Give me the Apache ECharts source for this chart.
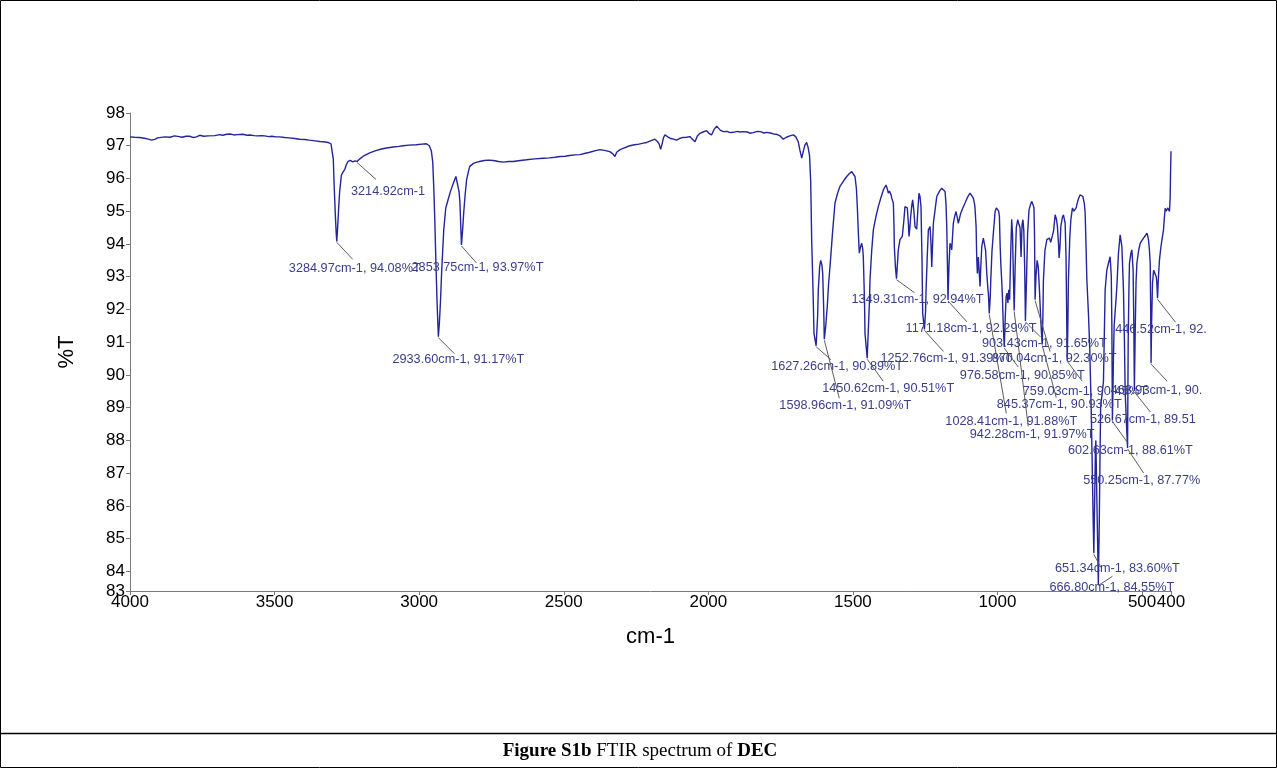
<!DOCTYPE html>
<html>
<head>
<meta charset="utf-8">
<script src="https://cdn.jsdelivr.net/npm/echarts@6/dist/echarts.min.js"></script>
<style>
  html, body { margin: 0; padding: 0; background: #ffffff; }
  #chart { width: 1277px; height: 768px; }
</style>
</head>
<body>
<div id="chart"></div>
<script>
// FTIR spectrum of DEC: transmittance (%T) against wavenumber (cm-1), 4000 -> 400 cm-1
const spectrum = [
  [4000,97.27],[3985,97.26],[3967,97.25],[3950,97.23],[3940,97.21],[3925,97.17],[3912,97.2],[3905,97.24],
  [3880,97.27],[3862,97.26],[3846,97.3],[3830,97.28],[3820,97.26],[3806,97.29],[3794,97.29],[3780,97.25],
  [3770,97.27],[3759,97.32],[3745,97.29],[3730,97.3],[3707,97.31],[3690,97.34],[3680,97.32],[3665,97.35],
  [3655,97.36],[3640,97.33],[3630,97.34],[3610,97.35],[3595,97.32],[3586,97.33],[3570,97.31],[3560,97.3],
  [3545,97.31],[3534,97.3],[3520,97.28],[3510,97.29],[3495,97.27],[3482,97.27],[3465,97.25],[3450,97.24],
  [3430,97.22],[3413,97.2],[3395,97.19],[3380,97.17],[3360,97.15],[3344,97.13],[3330,97.12],[3315,97.1],
  [3305,97.06],[3300,97.0],[3297,96.6],[3294,95.8],[3290,94.9],[3287,94.35],[3284.97,94.08],[3282,94.5],
  [3279,95.0],[3275,95.6],[3269,96.1],[3263,96.2],[3257,96.28],[3252,96.42],[3246,96.52],[3238,96.55],
  [3230,96.51],[3222,96.54],[3214.92,96.52],[3205,96.6],[3190,96.7],[3171,96.78],[3150,96.85],[3130,96.9],
  [3113,96.93],[3090,96.96],[3070,96.98],[3056,97.0],[3035,97.02],[3010,97.03],[2990,97.05],[2975,97.06],
  [2965,97.0],[2958,96.85],[2953,96.5],[2949,95.6],[2946,94.74],[2942,93.4],[2938,92.19],[2933.6,91.17],
  [2930,91.6],[2926,92.3],[2922,93.2],[2918,93.9],[2915,94.43],[2908,95.1],[2900,95.35],[2892,95.6],
  [2882,95.85],[2873,96.06],[2867,96.0],[2862,95.6],[2859,95.26],[2856,94.5],[2853.75,93.97],[2850,94.4],
  [2846,94.95],[2841,95.5],[2836,95.96],[2830,96.2],[2825,96.37],[2812,96.46],[2800,96.5],[2791,96.52],
  [2775,96.55],[2760,96.56],[2744,96.55],[2725,96.52],[2710,96.5],[2690,96.52],[2675,96.52],[2650,96.55],
  [2629,96.57],[2600,96.6],[2571,96.62],[2550,96.63],[2530,96.65],[2513,96.67],[2495,96.68],[2480,96.7],
  [2460,96.72],[2444,96.73],[2425,96.77],[2410,96.8],[2390,96.85],[2375,96.88],[2355,96.85],[2341,96.82],
  [2330,96.75],[2323,96.67],[2317,96.8],[2305,96.88],[2295,96.92],[2280,96.97],[2272,97.0],[2255,97.03],
  [2240,97.05],[2225,97.08],[2213,97.1],[2200,97.15],[2185,97.2],[2175,97.12],[2170,97.05],[2165,96.89],
  [2160,97.05],[2155,97.25],[2150,97.33],[2140,97.27],[2130,97.22],[2120,97.2],[2110,97.17],[2100,97.22],
  [2090,97.25],[2075,97.26],[2064,97.28],[2055,97.2],[2046,97.12],[2038,97.3],[2029,97.38],[2018,97.42],
  [2006,97.46],[1998,97.38],[1989,97.33],[1980,97.5],[1971,97.6],[1965,97.55],[1958,97.47],[1948,97.43],
  [1935,97.44],[1925,97.4],[1914,97.41],[1900,97.44],[1890,97.42],[1879,97.43],[1865,97.42],[1855,97.38],
  [1845,97.4],[1830,97.44],[1820,97.43],[1808,97.39],[1798,97.41],[1785,97.39],[1775,97.36],[1764,97.35],
  [1752,97.3],[1741,97.2],[1730,97.26],[1718,97.3],[1706,97.33],[1698,97.28],[1689,97.12],[1683,96.85],
  [1677,96.62],[1671,96.85],[1666,97.02],[1660,97.1],[1655,96.95],[1650,96.7],[1646,95.9],[1642.6,94.13],
  [1638,92.6],[1634.6,91.27],[1627.26,90.89],[1622,91.8],[1619.7,92.6],[1615,93.3],[1611.4,93.5],[1607,93.35],
  [1604.5,93.1],[1601,92.0],[1598.96,91.09],[1594,91.5],[1588.6,92.1],[1584,92.8],[1579.3,93.3],[1570,94.4],
  [1562,95.25],[1553,95.55],[1544.7,95.76],[1532,95.93],[1521.5,96.06],[1512,96.15],[1504.2,96.21],[1498,96.16],
  [1492.8,96.06],[1488,95.7],[1484.8,95.14],[1481,94.3],[1477.9,93.72],[1474,93.9],[1469.6,94.02],[1466,93.85],
  [1464.1,93.61],[1460,92.3],[1458.2,91.27],[1450.62,90.51],[1446.7,91.37],[1443,92.2],[1440.9,92.9],[1435,93.8],
  [1429.4,94.43],[1420,94.85],[1412.1,95.14],[1403,95.42],[1394.8,95.65],[1385.5,95.8],[1381,95.68],[1377.5,95.55],
  [1374,95.62],[1371.6,95.65],[1368,95.5],[1365.8,95.4],[1360.2,95.25],[1358,94.6],[1356.8,93.92],[1353,93.3],
  [1349.31,92.94],[1346,93.4],[1343.1,93.82],[1337.2,94.13],[1329.2,94.23],[1324,94.7],[1319.9,95.14],[1315,95.18],
  [1311.9,95.1],[1308,94.6],[1306,94.23],[1303,94.5],[1300.2,94.84],[1296,95.2],[1293.3,95.35],[1289,95.0],
  [1285.3,94.53],[1279.4,94.45],[1275,95.1],[1271.5,95.55],[1268,95.45],[1264.6,95.14],[1261,93.5],[1258.7,91.88],
  [1252.76,91.39],[1249,91.9],[1247,92.6],[1243,93.6],[1239.1,94.43],[1233.2,94.53],[1230,94.0],[1227.3,93.3],
  [1224,94.1],[1221.8,94.63],[1215,95.1],[1210.1,95.45],[1200,95.62],[1192.8,95.7],[1186,95.68],[1181.3,95.6],
  [1178,95.2],[1175.5,94.53],[1173,93.3],[1171.18,92.29],[1168,93.3],[1164.2,94.02],[1161,93.95],[1158.3,93.82],
  [1155,94.3],[1152.8,94.63],[1148,94.85],[1143.4,94.99],[1139,94.8],[1135.5,94.63],[1131,94.8],[1127.2,94.94],
  [1120,95.1],[1112.3,95.25],[1104,95.42],[1095,95.55],[1089.2,95.55],[1083.6,95.4],[1079,95.2],[1077.8,95.1],
  [1074,94.53],[1071.9,93.6],[1069.6,93.1],[1066.2,93.6],[1063,93.1],[1060.3,92.7],[1057.8,93.3],[1054.4,93.92],
  [1049,94.18],[1045.4,94.23],[1041,93.8],[1037,93.1],[1033,92.6],[1031.5,92.49],[1028.41,91.88],[1025,92.4],
  [1023.2,92.9],[1019,93.8],[1014.3,94.33],[1010,94.8],[1008.4,94.99],[1004,95.1],[1000.3,95.14],[996,95.0],
  [993.4,94.84],[991,94.0],[988.6,93.41],[985,92.8],[983,92.39],[980,91.5],[976.58,90.85],[973,91.8],
  [970,92.4],[967,92.5],[964,92.2],[961,92.6],[958,92.3],[955,93.5],[951,94.75],[948,94.3],
  [945,93.0],[942.28,91.97],[939,93.3],[935,94.5],[930,94.74],[926,94.6],[922,94.5],[918.5,93.6],
  [915,94.6],[912,94.74],[909,94.4],[906,93.3],[903.43,91.65],[900,92.8],[896,94.3],[891,95.04],
  [886,95.2],[881.8,95.3],[877,95.2],[873.9,95.1],[872,94.3],[870.04,92.3],[867,93.0],[863,93.5],
  [859,93.3],[855,92.6],[851,91.8],[848,91.3],[845.37,90.93],[843,91.8],[841.2,92.9],[836,93.8],
  [829.4,94.13],[824,94.15],[820.4,94.18],[816,94.05],[812.1,94.08],[806,94.4],[800.7,94.89],[796,94.75],
  [792.8,94.53],[789,94.0],[786.9,93.57],[784,93.9],[781,94.53],[776,94.8],[772,94.89],[766.1,94.64],
  [763,93.6],[761,92.0],[759.03,90.45],[756.5,91.6],[754.7,92.9],[750,94.2],[746.4,94.74],[740.8,95.1],
  [736,95.0],[731.5,94.95],[728,95.1],[725.6,95.2],[720,95.38],[714.2,95.5],[709,95.5],[704.9,95.45],
  [700,95.25],[696.9,94.95],[694,94.0],[691,92.9],[685.5,91.88],[681,90.8],[676,89.0],[672,87.0],
  [669,85.5],[666.8,84.55],[664,86.2],[661.5,87.6],[659.9,88.0],[657.5,86.8],[654,85.0],[651.34,83.6],
  [648,85.5],[645.5,87.5],[643.3,89.0],[633.6,89.8],[630,91.5],[627.7,92.6],[622,93.2],[616.3,93.41],
  [610.4,93.61],[606.5,93.0],[604.5,91.5],[602.63,88.61],[599,90.5],[596.6,91.5],[591,92.2],[587.2,92.7],
  [581.7,93.72],[575.8,94.28],[569.9,93.92],[564.4,92.6],[561,91.0],[558.5,89.5],[554,88.5],[550.25,87.77],
  [548,91.06],[545.5,92.6],[543.6,93.41],[539,93.7],[535.3,93.82],[531,93.2],[528.5,91.5],[526.67,89.51],
  [524,91.2],[521,92.8],[518,93.41],[512,93.8],[506.6,94.02],[501,94.1],[495.1,94.18],[489,94.25],
  [483.4,94.33],[480.5,94.25],[477.8,94.12],[474.5,93.8],[471.9,93.4],[470.3,92.0],[468.93,90.36],[467,91.6],
  [464,92.8],[460,93.2],[454.7,93.26],[451,93.0],[449,92.8],[446.52,92.34],[444,92.9],[440,93.5],
  [435,93.9],[431.5,94.12],[426,94.43],[423,94.8],[420.1,95.09],[417,95.0],[414.2,94.99],[411,95.1],
  [408.6,95.14],[405.2,94.99],[403,95.4],[401.5,96.2],[400,96.83]
];

// Picked peaks
const peakWavenumbers = [3214.92, 3284.97, 2853.75, 2933.60, 1627.26, 1598.96, 1450.62, 1349.31,
  1252.76, 1171.18, 1028.41, 976.58, 942.28, 903.43, 870.04, 845.37, 759.03, 666.80, 651.34,
  602.63, 550.25, 526.67, 468.93, 446.52];
const peakTransmittance = [96.52, 94.08, 93.97, 91.17, 90.89, 91.09, 90.51, 92.94,
  91.39, 92.29, 91.88, 90.85, 91.97, 91.65, 92.30, 90.93, 90.45, 84.55, 83.60,
  88.61, 87.77, 89.51, 90.36, 92.34];
const peakShowsT = peakWavenumbers.map((w, i) => i !== 0);

const xTickValues = [4000, 3500, 3000, 2500, 2000, 1500, 1000, 500, 400];
const yTickValues = [83.4, 84, 85, 86, 87, 88, 89, 90, 91, 92, 93, 94, 95, 96, 97, 98];

// Leader end and label centre, in pixels from each peak tip: [leaderDx, leaderDy, textDx, textDy]
const labelLayout = [
  [19, 18, 31, 30], [16, 18, 18, 27], [15, 18, 16, 23], [16, 17, 20, 23],
  [15, 14, 21, 21], [15, 59, 21, 66], [16, 23, 21, 30], [18, 14, 21, 21],
  [19, 22, 22, 29], [19, 22, 23, 29], [17, 100, 22, 108], [14, 20, 18, 28],
  [14, 116, 18, 124], [15, 16, 19, 23], [15, 52, 19, 59], [14, 53, 17, 60],
  [15, 21, 18, 31], [7, 14, 18, 34], [14, -8, 19, -16], [15, 22, 18, 30],
  [16, 25, 18, 33], [16, 21, 18, 29], [16, 18, 22, 27], [18, 24, 20, 31]
];

const LABEL_FONT = '12.7px "Liberation Sans", Arial, sans-serif';
const TEXT_CLIP_RIGHT = 1207;
const measureCtx = document.createElement('canvas').getContext('2d');
measureCtx.font = LABEL_FONT;

function peakText(i) {
  const w = peakWavenumbers[i].toFixed(2) + 'cm-1';
  return peakShowsT[i] ? w + ', ' + peakTransmittance[i].toFixed(2) + '%T' : w;
}
function fitText(text, maxWidth) {
  while (text.length && measureCtx.measureText(text).width > maxWidth) text = text.slice(0, -1);
  return text;
}

const chart = echarts.init(document.getElementById('chart'), null, { renderer: 'canvas' });

const option = {
  animation: false,
  backgroundColor: '#ffffff',
  grid: { left: 130, right: 106, top: 113, bottom: 177, containLabel: false },
  xAxis: {
    type: 'value', inverse: true, min: 400, max: 4000,
    name: 'cm-1', nameLocation: 'middle', nameGap: 35,
    nameTextStyle: { fontSize: 22, color: '#000', fontFamily: 'Liberation Sans' },
    axisLine: { show: true, lineStyle: { color: '#7a7a7a', width: 1 } },
    axisTick: { show: true, length: 4, customValues: xTickValues, lineStyle: { color: '#7a7a7a' } },
    axisLabel: { customValues: xTickValues, color: '#000', fontSize: 17, fontFamily: 'Liberation Sans', margin: 3,
      formatter: v => String(v) },
    splitLine: { show: false }
  },
  yAxis: {
    type: 'value', min: 83.4, max: 98,
    name: '%T', nameLocation: 'middle', nameGap: 52, nameRotate: 90,
    nameTextStyle: { fontSize: 22, color: '#000', fontFamily: 'Liberation Sans' },
    axisLine: { show: true, lineStyle: { color: '#7a7a7a', width: 1 } },
    axisTick: { show: true, length: 4, customValues: yTickValues, lineStyle: { color: '#7a7a7a' } },
    axisLabel: { customValues: yTickValues, color: '#000', fontSize: 17, fontFamily: 'Liberation Sans', margin: 5,
      formatter: v => String(Math.round(v)) },
    splitLine: { show: false }
  },
  series: [
    {
      type: 'line', data: spectrum, showSymbol: false, symbol: 'none',
      lineStyle: { color: '#24249c', width: 1.4 }, z: 2
    },
    {
      type: 'custom', coordinateSystem: 'cartesian2d', clip: false, silent: true, z: 3,
      data: peakWavenumbers.map((w, i) => [w, peakTransmittance[i], i]),
      encode: { x: 0, y: 1 },
      renderItem: function (params, api) {
        const i = api.value(2);
        const p = api.coord([api.value(0), api.value(1)]);
        const L = labelLayout[i];
        const full = peakText(i);
        const left = p[0] + L[2] - measureCtx.measureText(full).width / 2;
        const shown = fitText(full, TEXT_CLIP_RIGHT - left);
        return {
          type: 'group',
          children: [
            { type: 'line', shape: { x1: p[0], y1: p[1] + 1, x2: p[0] + L[0], y2: p[1] + L[1] },
              style: { stroke: '#5c5c5c', lineWidth: 1 } },
            { type: 'text', style: { text: shown, x: left, y: p[1] + L[3], fill: '#3a3d8c', font: LABEL_FONT,
              textAlign: 'left', textVerticalAlign: 'middle', align: 'left', verticalAlign: 'middle' } }
          ]
        };
      }
    }
  ],
  graphic: [
    { type: 'rect', silent: true, shape: { x: 0.5, y: 0.5, width: 1276, height: 767 },
      style: { fill: null, stroke: '#000', lineWidth: 1 } },
    { type: 'line', silent: true, shape: { x1: 0, y1: 733.5, x2: 1277, y2: 733.5 },
      style: { stroke: '#000', lineWidth: 1.5 } },
    { type: 'text', silent: true, x: 640, y: 751,
      style: {
        text: '{b|Figure S1b} FTIR spectrum of {b|DEC}',
        textAlign: 'center', textVerticalAlign: 'middle', align: 'center', verticalAlign: 'middle',
        font: '19px "Liberation Serif", "Times New Roman", serif', fill: '#000',
        rich: { b: { fontWeight: 'bold', fontSize: 19, fontFamily: 'Liberation Serif' } }
      } }
  ]
};

chart.setOption(option);
</script>
</body>
</html>
